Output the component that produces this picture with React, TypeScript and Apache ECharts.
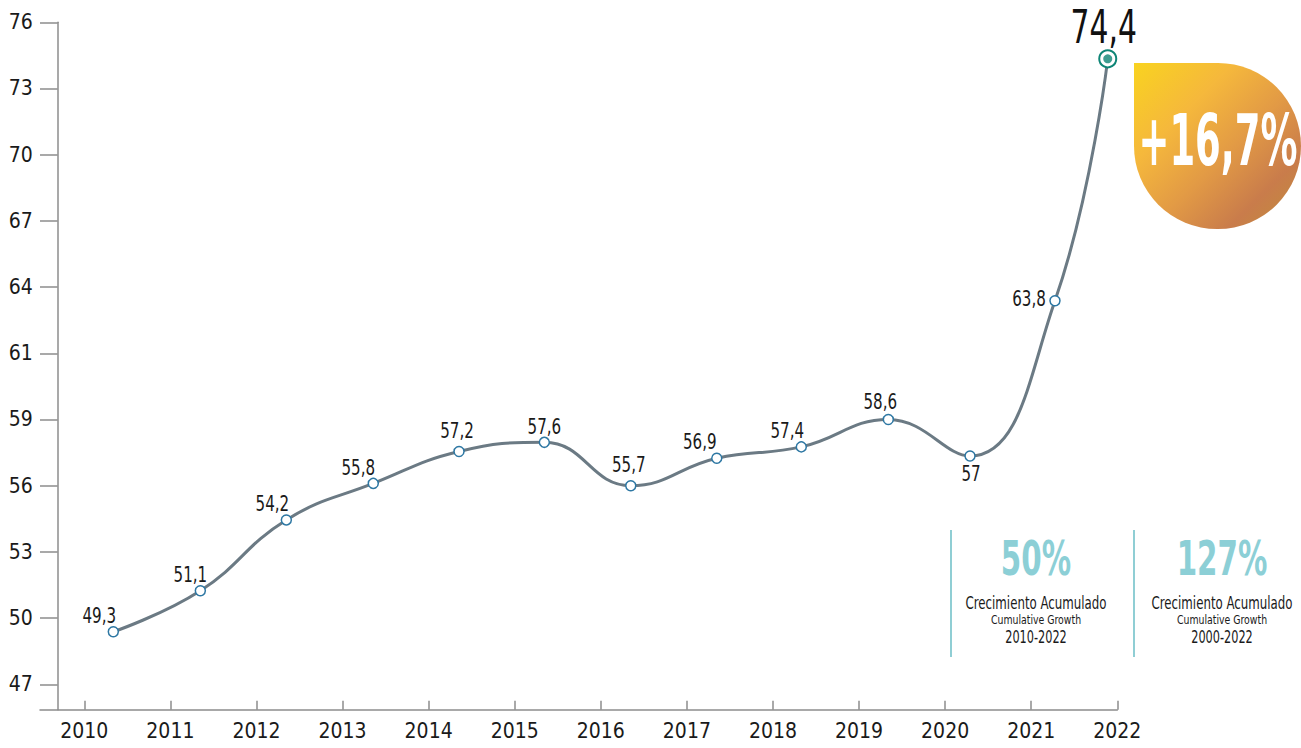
import React, { useEffect, useRef } from "react";
import * as echarts from "echarts";

// ---- data ----
const years = [2010, 2011, 2012, 2013, 2014, 2015, 2016, 2017, 2018, 2019, 2020, 2021, 2022];
// where each observation sits along the year axis (as drawn in the source)
const pointYears = [2010.337, 2011.348, 2012.347, 2013.357, 2014.353, 2015.344, 2016.348, 2017.347, 2018.329, 2019.34, 2020.289, 2021.276, 2021.889];
const values = [49.3, 51.1, 54.2, 55.8, 57.2, 57.6, 55.7, 56.9, 57.4, 58.6, 57, 63.8, 74.4];
const yTickValues = [47, 49.9, 52.8, 55.7, 58.6, 61.5, 64.4, 67.3, 70.2, 73.1, 76];
const yTickLabels = ["47", "50", "53", "56", "59", "61", "64", "67", "70", "73", "76"];
const growthBadge = "+16,7%";
const cumulativePct = ["50%", "127%"];
const cumulativeEs = ["Crecimiento Acumulado", "Crecimiento Acumulado"];
const cumulativeEn = ["Cumulative Growth", "Cumulative Growth"];
const cumulativePeriod = ["2010-2022", "2000-2022"];

const FONT = "'DejaVu Sans Condensed', 'DejaVu Sans', sans-serif";
const AXIS = "#8c8c8c";

// label placement (offset of label centre from point)
const labelOffsets: number[][] = [
  [-14, -17], [-10, -16], [-14, -17], [-15, -16], [-2, -21], [0, -16], [-2, -21],
  [-17, -17], [-14, -17], [-8, -18], [1, 17], [-26, -3], [-4, -32],
];

const fmt = (v: number) => String(v).replace(".", ",");

export default function App() {
  const ref = useRef<HTMLDivElement>(null);

  useEffect(() => {
    if (!ref.current) return;
    const chart = echarts.init(ref.current, null, { renderer: "svg" });
    const last = values.length - 1;
    const points = values.map((v, i) => [pointYears[i], v]);

    const lineData = points.map((p, i) => {
      const item: any = { value: p };
      if (i === last) {
        item.symbolSize = 17;
        item.itemStyle = { color: "#ffffff", borderColor: "#0e8576", borderWidth: 2 };
      }
      return item;
    });

    const groupX = [1036, 1222];
    const graphics: any[] = [
      {
        type: "rect",
        shape: { x: 1134, y: 63, width: 167, height: 166, r: [0, 83, 83, 83] },
        style: {
          fill: new echarts.graphic.LinearGradient(0, 0, 1, 1, [
            { offset: 0, color: "#f9d320" },
            { offset: 0.3, color: "#f5b83c" },
            { offset: 0.55, color: "#e29a45" },
            { offset: 0.78, color: "#c97c4b" },
            { offset: 1, color: "#bf8f3a" },
          ]),
        },
        z: 1,
      },
      {
        type: "text",
        x: 1218,
        y: 140,
        scaleX: 0.57,
        style: {
          text: growthBadge,
          fill: "#ffffff",
          fontSize: 72,
          fontWeight: "bold",
          fontFamily: FONT,
          align: "center",
          verticalAlign: "middle",
        },
        z: 2,
      },
      {
        type: "line",
        shape: { x1: 951, y1: 530, x2: 951, y2: 657 },
        style: { stroke: "#45aeb8", lineWidth: 1.2 },
      },
      {
        type: "line",
        shape: { x1: 1134, y1: 530, x2: 1134, y2: 657 },
        style: { stroke: "#45aeb8", lineWidth: 1.2 },
      },
    ];
    cumulativePct.forEach((p, i) => {
      const cx = groupX[i];
      graphics.push(
        {
          type: "text", x: cx, y: 559, scaleX: 0.68,
          style: { text: p, fill: "#8ccfd6", fontSize: 48, fontWeight: "bold", fontFamily: FONT, align: "center", verticalAlign: "middle" },
        },
        {
          type: "text", x: cx, y: 603.5, scaleX: 0.75,
          style: { text: cumulativeEs[i], fill: "#1a1a1a", fontSize: 17.5, fontFamily: FONT, align: "center", verticalAlign: "middle" },
        },
        {
          type: "text", x: cx, y: 620, scaleX: 0.8,
          style: { text: cumulativeEn[i], fill: "#1a1a1a", fontSize: 13, fontFamily: FONT, align: "center", verticalAlign: "middle" },
        },
        {
          type: "text", x: cx, y: 637, scaleX: 0.74,
          style: { text: cumulativePeriod[i], fill: "#1a1a1a", fontSize: 17, fontFamily: FONT, align: "center", verticalAlign: "middle" },
        }
      );
    });

    chart.setOption({
      animation: false,
      textStyle: { fontFamily: FONT },
      grid: { left: 40, right: 183.7, top: 22.3, bottom: 38.3, containLabel: false, outerBoundsMode: "none" },
      xAxis: {
        type: "value",
        min: 2009.4854,
        max: 2022,
        axisLine: { show: true, onZero: false, lineStyle: { color: AXIS, width: 1.5 } },
        axisTick: { show: true, inside: true, length: 9, customValues: years, lineStyle: { color: AXIS, width: 1.5 } },
        axisLabel: {
          customValues: years,
          formatter: (v: number) => String(Math.round(v)),
          fontSize: 21,
          color: "#1a1a1a",
          margin: 11,
          fontFamily: FONT,
        },
        splitLine: { show: false },
      },
      yAxis: {
        type: "value",
        min: 45.887,
        max: 76,
        offset: -17.7,
        axisLine: { show: true, onZero: false, lineStyle: { color: AXIS, width: 1.5 } },
        axisTick: { show: true, length: 17.7, customValues: yTickValues, lineStyle: { color: AXIS, width: 1.5 } },
        axisLabel: {
          customValues: yTickValues,
          formatter: (v: number) => {
            const idx = yTickValues.findIndex((t) => Math.abs(t - v) < 0.01);
            return idx >= 0 ? yTickLabels[idx] : "";
          },
          fontSize: 21,
          color: "#1a1a1a",
          margin: 25,
          fontFamily: FONT,
        },
        splitLine: { show: false },
      },
      series: [
        {
          type: "line",
          data: lineData,
          smooth: 0.45,
          symbol: "circle",
          symbolSize: 10,
          lineStyle: { color: "#6b7a84", width: 3 },
          itemStyle: { color: "#ffffff", borderColor: "#2d77a3", borderWidth: 1.5 },
          label: { show: false },
          z: 3,
        },
        {
          type: "scatter",
          data: [points[last]],
          symbol: "circle",
          symbolSize: 9,
          itemStyle: { color: "#0e8576" },
          silent: true,
          z: 4,
        },
        {
          type: "custom",
          data: points,
          silent: true,
          z: 5,
          renderItem: (params: any, api: any) => {
            const i = params.dataIndex;
            const c = api.coord([api.value(0), api.value(1)]);
            const off = labelOffsets[i];
            const big = i === last;
            return {
              type: "text",
              x: c[0] + off[0],
              y: c[1] + off[1],
              scaleX: big ? 0.72 : 0.8,
              style: {
                text: fmt(api.value(1)),
                fontSize: big ? 46 : 21,
                fill: big ? "#111" : "#1a1a1a",
                fontFamily: FONT,
                align: "center",
                verticalAlign: "middle",
              },
            };
          },
        },
      ],
      graphic: graphics,
    });

    return () => chart.dispose();
  }, []);

  return (
    <div
      ref={ref}
      style={{ position: "fixed", left: 0, top: 0, width: "1301px", height: "748px", background: "#fff" }}
    />
  );
}
